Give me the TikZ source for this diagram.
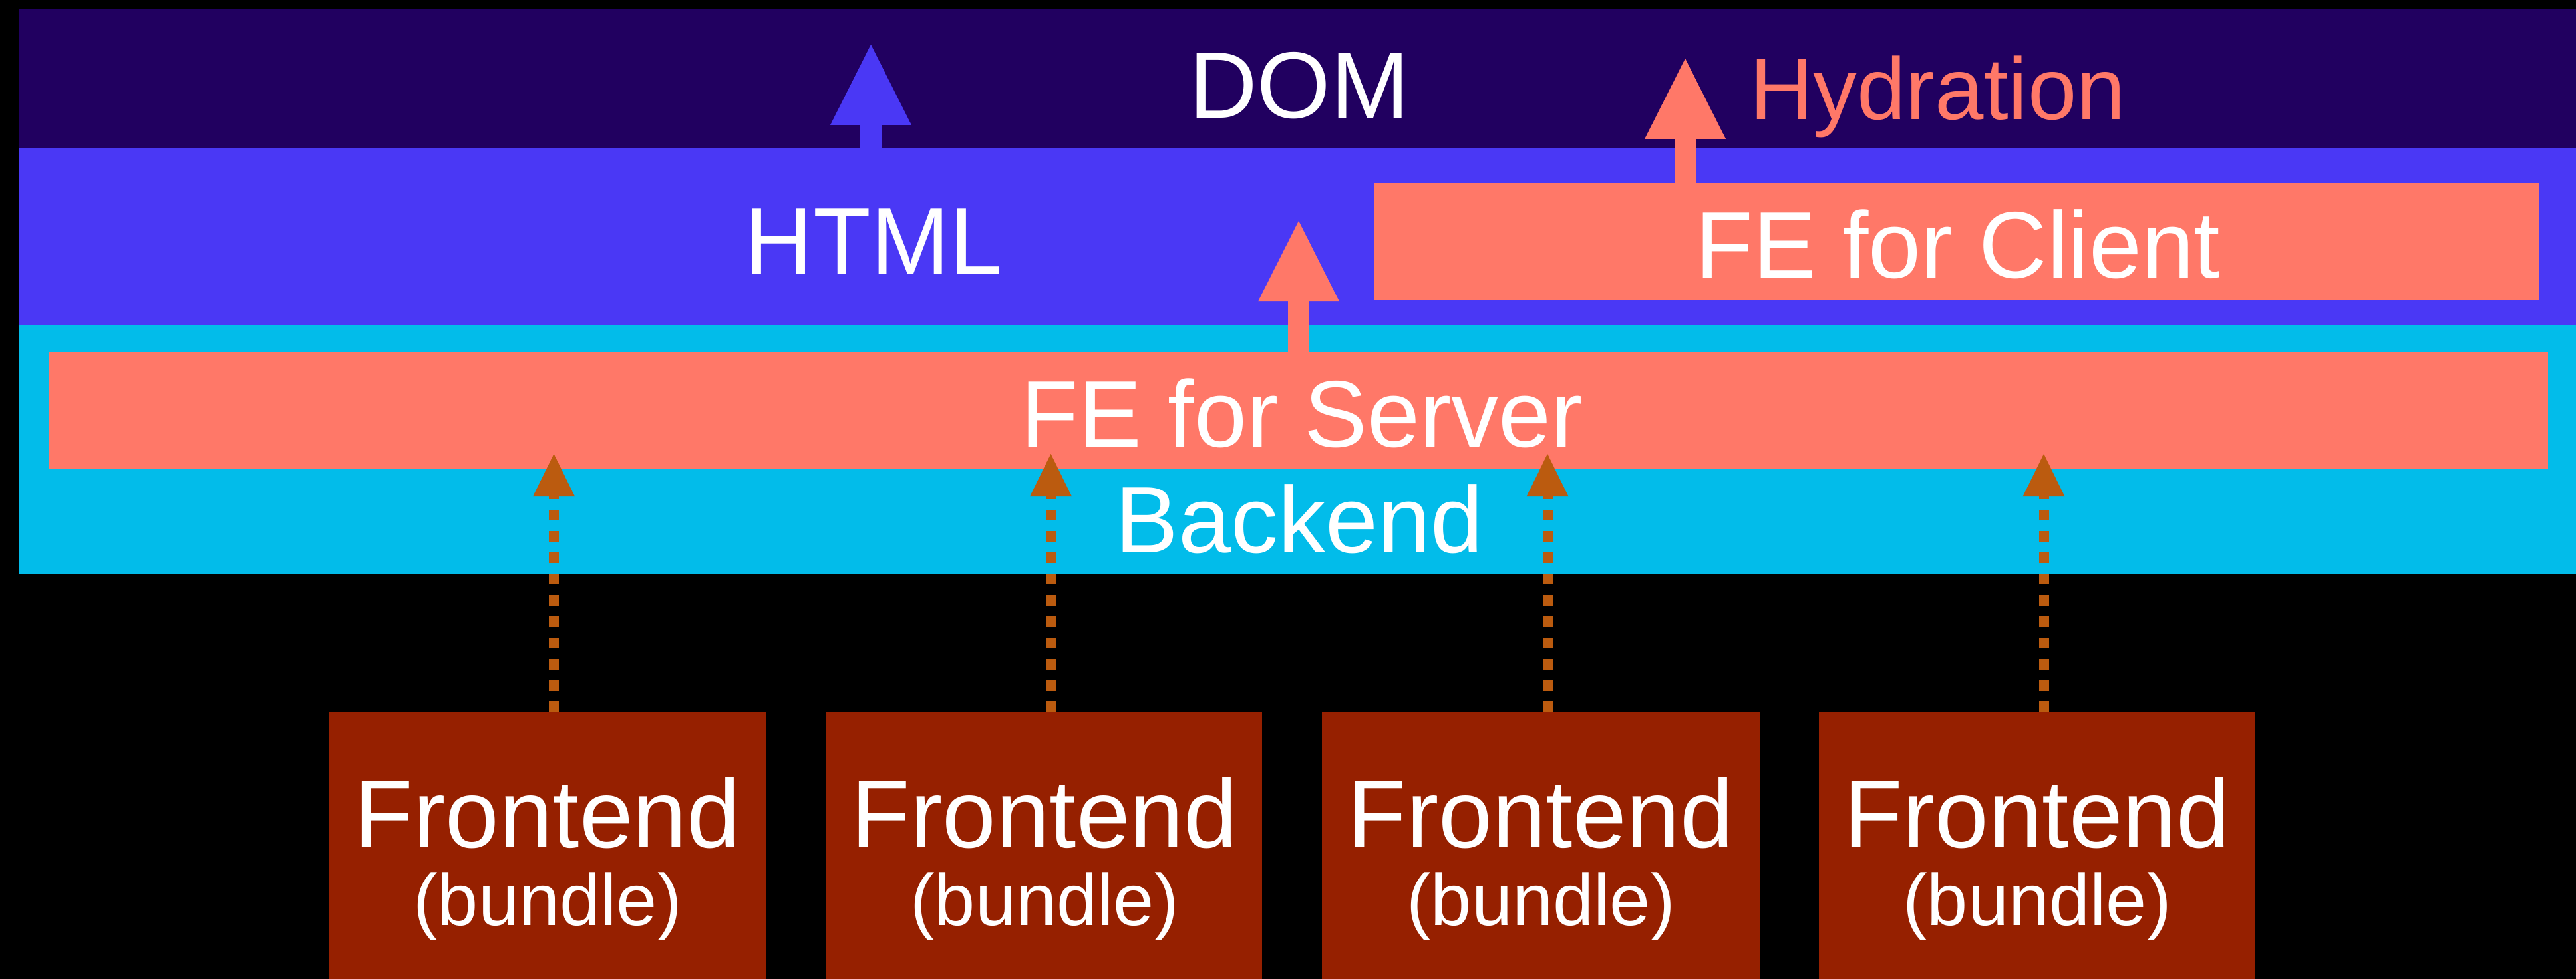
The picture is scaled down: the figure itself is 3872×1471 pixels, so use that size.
\documentclass[tikz,border=0pt]{standalone}
\usepackage{fontspec}
\setmainfont{Liberation Sans}
\usetikzlibrary{arrows.meta}

\definecolor{domc}{HTML}{210060}
\definecolor{htmlc}{HTML}{4A38F5}
\definecolor{backc}{HTML}{02BCEA}
\definecolor{fec}{HTML}{FF7868}
\definecolor{bundlec}{HTML}{962000}
\definecolor{dashc}{HTML}{BB5B0F}

\begin{document}
\begin{tikzpicture}[x=1pt,y=-1pt,
  panel/.style={rectangle, inner sep=0pt, outer sep=0pt, draw=none, anchor=north west},
  label/.style={inner sep=0pt, outer sep=0pt, anchor=base, text=white,
                font=\fontsize{142}{150}\selectfont},
  smalllabel/.style={label, font=\fontsize{110}{120}\selectfont},
  solidarrow/.style={line width=32pt, -{Triangle[length=121pt,width=122pt,line width=0pt]}},
  dasharrow/.style={draw=dashc, line width=15pt, dash pattern=on 16pt off 16pt,
                    -{Triangle[length=64pt,width=63pt,line width=0pt]}}
]
% canvas
\fill[black] (0,0) rectangle (3872,1471);
\useasboundingbox (0,0) rectangle (3872,1471);

% layered bands
\node[panel, fill=domc,  minimum width=3843pt, minimum height=208pt] (dom)  at (29,14)  {};
\node[panel, fill=htmlc, minimum width=3843pt, minimum height=266pt] (html) at (29,222) {};
\node[panel, fill=backc, minimum width=3843pt, minimum height=374pt] (back) at (29,488) {};

% frontend layers
\node[panel, fill=fec, minimum width=3757pt, minimum height=176pt] (fes) at (73,529)  {};
\node[panel, fill=fec, minimum width=1751pt, minimum height=176pt] (fec) at (2065,275) {};

% bundles
\foreach \i/\x/\w in {1/494/657, 2/1242/655, 3/1987/658, 4/2734/656}{
  \node[panel, fill=bundlec, minimum width=\w pt, minimum height=401pt] (f\i) at (\x,1070) {};
}

% arrows between layers
\draw[solidarrow, htmlc] (html.north -| 1309,0) -- (1309,67) coordinate (domtip);
\draw[solidarrow, fec] (fes.north -| 1952,0) -- (1952,332) coordinate (htmltip);
\draw[solidarrow, fec] (fec.north -| 2533,0) -- (2533,88) coordinate (hydtip);

% bundles feeding the server build
\foreach \i in {1,2,3,4}{
  \draw[dasharrow] ([xshift=10pt]f\i.north) -- ++(0,-388);
}

% texts
\node[label] (domtxt)  at (1953,178) {DOM};
\node[label, text=fec, anchor=base west, font=\fontsize{132}{140}\selectfont] (hydtxt) at (2630,180) {Hydration};
\node[label] (htmltxt) at (1313,411) {HTML};
\node[label] (fectxt)  at (2943,417) {FE for Client};
\node[label] (festxt)  at (1957,671) {FE for Server};
\node[label] (backtxt) at (1953,830) {Backend};

\foreach \i/\x in {1/823, 2/1570, 3/2316, 4/3062}{
  \node[label, font=\fontsize{145}{150}\selectfont] (ft\i) at (\x,1273) {Frontend};
  \node[smalllabel] (bt\i) at (\x,1390) {(bundle)};
}
\end{tikzpicture}
\end{document}
